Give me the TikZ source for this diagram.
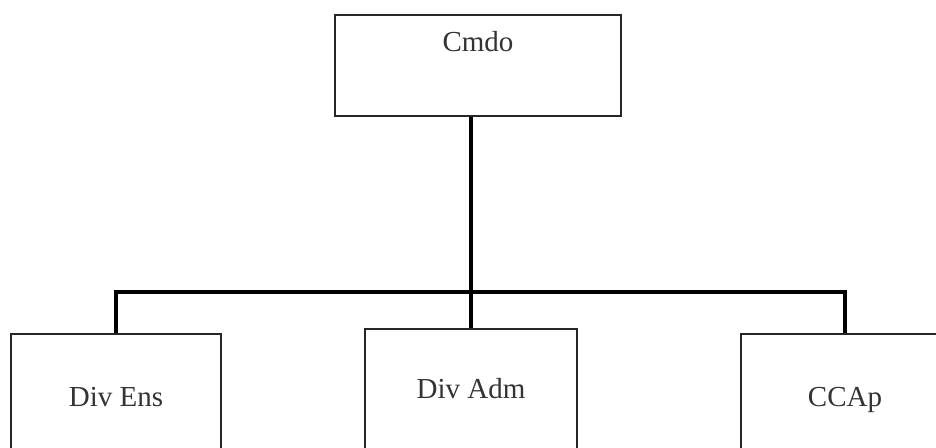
\documentclass[tikz,border=0pt]{standalone}
\usepackage{fontspec}
\setmainfont{Liberation Serif}
\begin{document}
\begin{tikzpicture}[x=1pt,y=-1pt,
  box/.style={draw=black!85, line width=2.2pt, inner sep=0pt, text height=25pt, text depth=7pt, font=\fontsize{29}{34}\selectfont, text=black!80},
  conn/.style={draw=black, line width=4pt}]
\useasboundingbox (0,0) rectangle (936,447);
\clip (0,0) rectangle (936,447);
\node[box, minimum width=286pt, minimum height=101pt,
  label={[anchor=base, yshift=-38pt, font=\fontsize{29}{34}\selectfont, text=black!80]north:Cmdo}] (cmdo) at (478,65.5) {};
\node[box, minimum width=210pt, minimum height=126pt] (ens) at (116,397) {Div Ens};
\node[box, minimum width=212pt, minimum height=120pt] (adm) at (471,389) {Div Adm};
\node[box, minimum width=208pt, minimum height=126pt] (ccap) at (845,397) {CCAp};
\coordinate (bar) at (471,292);
\draw[conn] (adm.north -| bar) -- (bar |- cmdo.south);
\draw[conn] (ens.north) |- (bar) -| (ccap.north);
\end{tikzpicture}
\end{document}
